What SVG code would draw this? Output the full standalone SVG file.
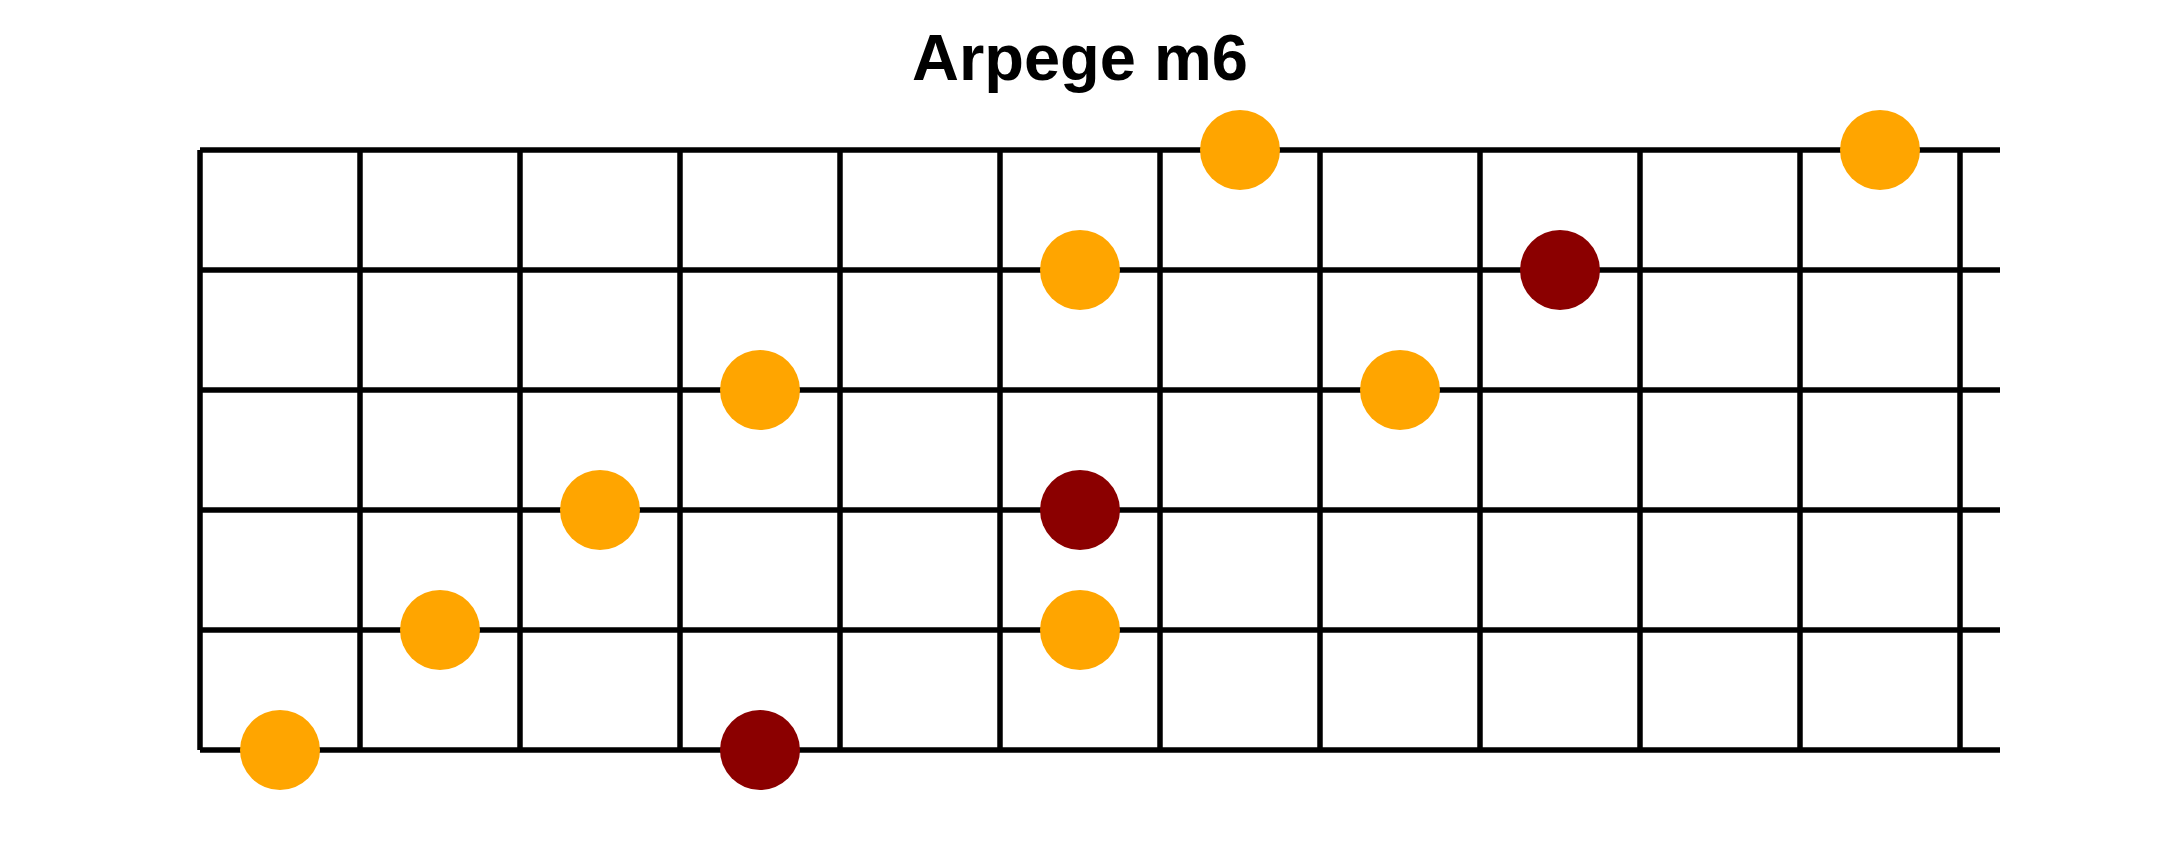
<svg xmlns="http://www.w3.org/2000/svg" width="2160" height="850" viewBox="0 0 2160 850">
<style>
.bg{fill:#ffffff}
.title{font-family:"Liberation Sans",Arial,sans-serif;font-weight:bold;font-size:65px;fill:#000000;text-anchor:middle}
.grid line{stroke:#000000;stroke-width:5.5;stroke-linecap:butt}
.note{fill:#FFA500}
.root{fill:#8B0000}
</style>
<rect class="bg" x="0" y="0" width="2160" height="850"/>
<text class="title" x="1080" y="80">Arpege m6</text>
<g id="connectors" class="grid">
<line x1="200" y1="150" x2="2000" y2="150"/>
<line x1="200" y1="270" x2="2000" y2="270"/>
<line x1="200" y1="390" x2="2000" y2="390"/>
<line x1="200" y1="510" x2="2000" y2="510"/>
<line x1="200" y1="630" x2="2000" y2="630"/>
<line x1="200" y1="750" x2="2000" y2="750"/>
<line x1="200" y1="150" x2="200" y2="750"/>
<line x1="360" y1="150" x2="360" y2="750"/>
<line x1="520" y1="150" x2="520" y2="750"/>
<line x1="680" y1="150" x2="680" y2="750"/>
<line x1="840" y1="150" x2="840" y2="750"/>
<line x1="1000" y1="150" x2="1000" y2="750"/>
<line x1="1160" y1="150" x2="1160" y2="750"/>
<line x1="1320" y1="150" x2="1320" y2="750"/>
<line x1="1480" y1="150" x2="1480" y2="750"/>
<line x1="1640" y1="150" x2="1640" y2="750"/>
<line x1="1800" y1="150" x2="1800" y2="750"/>
<line x1="1960" y1="150" x2="1960" y2="750"/>
</g>
<g id="n1"><circle class="note" cx="280" cy="750" r="40"/></g>
<g id="n2"><circle class="note" cx="440" cy="630" r="40"/></g>
<g id="n3"><circle class="note" cx="600" cy="510" r="40"/></g>
<g id="n4"><circle class="note" cx="760" cy="390" r="40"/></g>
<g id="n5"><circle class="note" cx="1080" cy="270" r="40"/></g>
<g id="n6"><circle class="note" cx="1240" cy="150" r="40"/></g>
<g id="n7"><circle class="root" cx="1560" cy="270" r="40"/></g>
<g id="n8"><circle class="note" cx="1880" cy="150" r="40"/></g>
<g id="n9"><circle class="note" cx="1400" cy="390" r="40"/></g>
<g id="n10"><circle class="root" cx="1080" cy="510" r="40"/></g>
<g id="n11"><circle class="note" cx="1080" cy="630" r="40"/></g>
<g id="n12"><circle class="root" cx="760" cy="750" r="40"/></g>
</svg>
